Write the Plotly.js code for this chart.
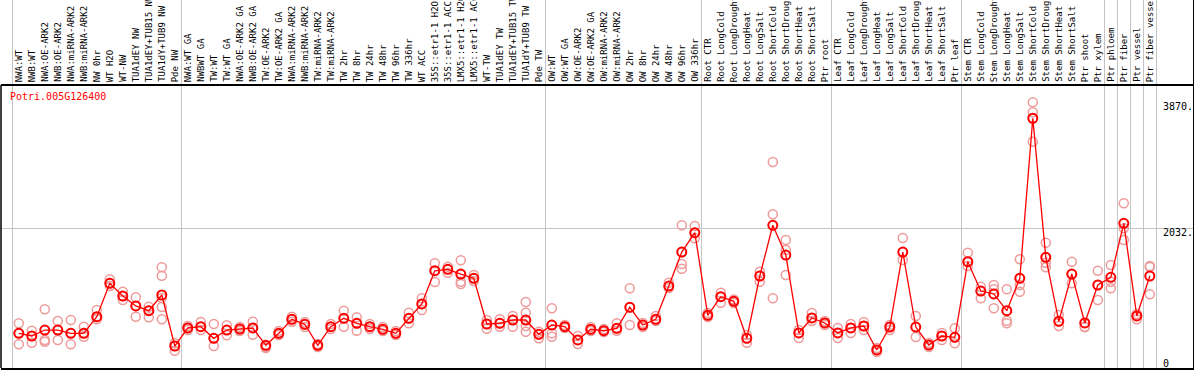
<!DOCTYPE html>
<html>
<head>
<meta charset="utf-8">
<script src="https://cdn.plot.ly/plotly-3.0.1.min.js"></script>
<style>
html,body{margin:0;padding:0;background:#fff;}
#chart{width:1194px;height:370px;}
</style>
</head>
<body>
<div id="chart"></div>
<script>
const geneName = 'Potri.005G126400';

const categories = [
  'NWA:WT','NWB:WT','NWA:OE-ARK2','NWB:OE-ARK2','NWA:miRNA-ARK2','NWB:miRNA-ARK2','NW 0hr','WT H2O','WT-NW',
  'TUA1dEY NW','TUA1dEY+TUB15 NW','TUA1dY+TUB9 NW','Pde NW',
  'NWA:WT GA','NWBWT GA','TW:WT','TW:WT GA','NWA:OE-ARK2 GA','NWB:OE-ARK2 GA','TW:OE-ARK2','TW:OE-ARK2 GA',
  'NWA:miRNA-ARK2','NWB:miRNA-ARK2','TW:miRNA-ARK2','TW:miRNA-ARK2','TW 2hr','TW 8hr','TW 24hr','TW 48hr','TW 96hr','TW 336hr',
  'WT ACC','35S::etr1-1 H2O','35S::etr1-1 ACC','LMX5::etr1-1 H2O','LMX5::etr1-1 ACC','WT-TW','TUA1dEY TW','TUA1dEY+TUB15 TW','TUA1dY+TUB9 TW','Pde TW',
  'OW:WT','OW:WT GA','OW:OE-ARK2','OW:OE-ARK2 GA','OW:miRNA-ARK2','OW:miRNA-ARK2','OW 2hr','OW 8hr','OW 24hr','OW 48hr','OW 96hr','OW 336hr',
  'Root CTR','Root LongCold','Root LongDrought','Root LongHeat','Root LongSalt','Root ShortCold','Root ShortDrought','Root ShortHeat','Root ShortSalt','Ptr root',
  'Leaf CTR','Leaf LongCold','Leaf LongDrought','Leaf LongHeat','Leaf LongSalt','Leaf ShortCold','Leaf ShortDrought','Leaf ShortHeat','Leaf ShortSalt','Ptr leaf',
  'Stem CTR','Stem LongCold','Stem LongDrought','Stem LongHeat','Stem LongSalt','Stem ShortCold','Stem ShortDrought','Stem ShortHeat','Stem ShortSalt',
  'Ptr shoot','Ptr xylem','Ptr phloem','Ptr fiber','Ptr vessel','Ptr fiber vessel'
];

const meanValues = [
  500,461,548,548,500,500,742,1230,1044,899,830,1059,315,
  578,597,427,548,563,578,325,500,705,632,325,597,719,646,597,559,500,719,
  928,1413,1434,1365,1303,636,646,694,694,486,
  621,597,403,559,538,573,880,621,705,1190,1686,1968,
  763,1034,967,427,1336,2076,1642,505,724,651,
  505,578,607,257,592,1686,592,330,461,442,
  1545,1117,1074,830,1303,3637,1609,675,1365,
  651,1205,1317,2105,753,1336
];

const replicateValues = [
  [646,505,340],[538,461,363],[850,403,378],[680,548,403],[694,505,340],[597,505,451],
  [840,738,705],[1288,1234,1190],[1107,1044,986],[1025,899,742],[888,830,734],
  [1463,1341,1015,884,705],[354,315,247],
  [607,578,548],[665,597,548],[636,427,315],[617,548,471],[592,563,534],[670,578,480],
  [325,300,286],[534,500,476],[742,705,670],[665,632,592],[344,325,300],[636,597,563],
  [830,719,597],[734,646,538],[636,597,563],[592,559,534],[534,500,476],[801,719,646],
  [1011,928,840],[1521,1413,1249],[1472,1434,1384],[1565,1365,1253,1219],[1351,1303,1263],
  [694,636,567],[705,646,597],[753,694,597],[957,801,694,607,524],[524,486,427],
  [865,621,500,451],[621,597,578],[461,403,344],[592,559,534],[563,538,519],[646,573,538],
  [1157,880,621],[651,621,592],[753,705,680],[1238,1190,1161],[2076,1686,1511,1443],[2066,1968,1886],
  [796,763,738],[1093,1034,947],[993,967,942],[476,427,363],[1399,1336,1253],[2999,2236,1011],
  [1861,1715,1351],[548,505,432],[796,724,680],[680,651,621],
  [578,505,432],[636,578,505],[665,607,548],[286,257,228],[621,592,548],[1890,1686,1570],
  [753,592,446],[359,330,300],[505,461,403],[573,442,354],
  [1676,1545,1482],[1180,1117,1011],[1205,1142,1074,865],[1142,830,684,646],[1580,1303,1205,1107],
  [3870,3724,3637,3295],[1822,1609,1530,1463],[767,675,607],[1545,1365,1230],
  [651,597,588],[1413,1205,986],[1497,1253,1157],[2397,2032,1861],[782,753,705],[1482,1467,1069]
];

const yTickValues = [0, 2032, 3870];
const yGridValues = [2032];
const groupBoundaries = [-0.5, 12.5, 40.5, 52.5, 62.5, 72.5, 83.5, 84.5, 85.5, 86.5, 87.5];

const xIdx = categories.map((_, i) => i);
const repX = [], repY = [];
replicateValues.forEach((arr, i) => arr.forEach(v => { repX.push(i); repY.push(v); }));

const mono = 'DejaVu Sans Mono, Liberation Mono, monospace';

const traces = [
  {
    x: repX, y: repY, type: 'scatter', mode: 'markers',
    marker: {symbol: 'circle-open', size: 9, color: '#ee9a9a', line: {width: 1.5, color: '#ee9a9a'}},
    hoverinfo: 'skip', showlegend: false
  },
  {
    x: xIdx, y: meanValues, type: 'scatter', mode: 'lines+markers',
    line: {color: '#ff0000', width: 1.3},
    marker: {symbol: 'circle-open', size: 9, color: '#ff0000', line: {width: 2, color: '#ff0000'}},
    hoverinfo: 'skip', showlegend: false
  }
];

const labelY = 1 - 84 / 368;
const annotations = categories.map((c, i) => ({
  x: i, xref: 'x', y: labelY, yref: 'paper',
  text: c, showarrow: false, textangle: -90,
  xanchor: 'center', yanchor: 'bottom',
  font: {family: mono, size: 9, color: '#000'}
}));

yTickValues.forEach(v => annotations.push({
  x: (1161 - 1) / 1192, xref: 'paper', xanchor: 'left',
  y: v, yref: 'y', yanchor: 'middle', yshift: v === 0 ? 4.5 : -4.5,
  text: v === 0 ? '0' : v + '.', showarrow: false,
  font: {family: mono, size: 10, color: '#000'}
}));

annotations.push({
  x: 0.0062, xref: 'paper', xanchor: 'left',
  y: 1 - 96.7 / 368, yref: 'paper', yanchor: 'middle',
  text: geneName, showarrow: false,
  font: {family: mono, size: 10, color: '#ff0000'}
});

const layout = {
  width: 1194, height: 370,
  margin: {l: 1, r: 1, t: 0, b: 2, pad: 0},
  paper_bgcolor: '#fff', plot_bgcolor: '#fff',
  showlegend: false,
  xaxis: {
    range: [-1.369, 90.323], tickvals: groupBoundaries, showgrid: true,
    gridcolor: '#c4c4c4', gridwidth: 1.3, showticklabels: false, ticks: '',
    zeroline: false, showline: true, mirror: true, linecolor: '#000', linewidth: 2
  },
  yaxis: {
    range: [-5.8, 5362], tickvals: yGridValues, showgrid: true,
    gridcolor: '#c4c4c4', gridwidth: 1.3, showticklabels: false, ticks: '',
    zeroline: false, side: 'right', showline: true, linecolor: '#000', linewidth: 1.5
  },
  shapes: [
    {type: 'line', xref: 'paper', yref: 'paper', x0: 0, x1: 1, y0: 1 - 85 / 368, y1: 1 - 85 / 368,
     line: {color: '#000', width: 2}},
    {type: 'line', xref: 'paper', yref: 'paper', x0: 0, x1: 0, y0: 0, y1: 1 - 85 / 368,
     line: {color: '#000', width: 1.5}}
  ],
  annotations: annotations
};

Plotly.newPlot('chart', traces, layout, {displayModeBar: false, staticPlot: true});
</script>
</body>
</html>
